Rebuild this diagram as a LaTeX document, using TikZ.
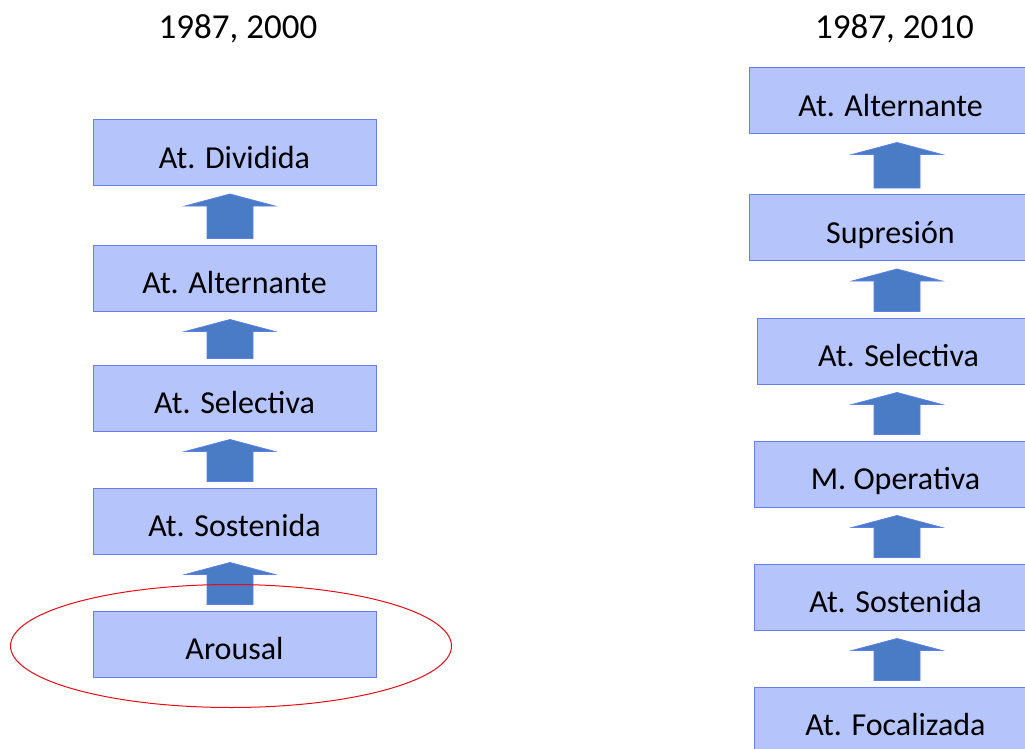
\documentclass[tikz,border=0pt]{standalone}
\usepackage{fontspec}
\setmainfont{Carlito}
\usetikzlibrary{calc}

\definecolor{boxfill}{RGB}{181,196,251}
\definecolor{boxline}{RGB}{104,126,240}
\definecolor{arrfill}{RGB}{73,124,197}
\definecolor{arrline}{RGB}{92,127,232}
\definecolor{ringred}{RGB}{232,10,20}

% block arrow from lower box #1 up to upper box #2, on column #3
\newcommand{\stepup}[3]{%
  \draw[blockarrow]
    ($(#3 |- #1.north)+(-23,-6)$) -- ($(#3 |- #2.south)+(-23,20)$)
    -- ($(#3 |- #2.south)+(-45,20)$) -- ($(#3 |- #2.south)+(0,8)$)
    -- ($(#3 |- #2.south)+(45,20)$) -- ($(#3 |- #2.south)+(23,20)$)
    -- ($(#3 |- #1.north)+(23,-6)$) -- cycle;}

\begin{document}
\begin{tikzpicture}
        [x=1pt,y=-1pt,
         level/.style={draw=boxline,fill=boxfill,line width=1pt,
           minimum width=283pt,minimum height=66pt,inner sep=0pt,
           text height=31pt,text depth=0pt,
           font=\fontsize{32}{38}\selectfont},
         blockarrow/.style={draw=arrline,fill=arrfill,line width=0.8pt},
         heading/.style={text height=22pt,text depth=0pt,
           font=\fontsize{35}{42}\selectfont}]
        \useasboundingbox (0,0) rectangle (1025,749);

        \coordinate (colL) at (230,0);
        \coordinate (colR) at (897,0);

        % left column
        \node[heading] (titleL) at (238,27.5) {1987, 2000};
        \node[level] (divL) at (234.5,152.5) {At. Dividida};
        \node[level] (altL) at (234.5,278) {At. Alternante};
        \node[level] (selL) at (234.5,398) {At. Selectiva};
        \node[level] (sosL) at (234.5,521) {At. Sostenida};
        \node[level] (aroL) at (234.5,644) {Arousal};

        \stepup{altL}{divL}{colL}
        \stepup{selL}{altL}{colL}
        \stepup{sosL}{selL}{colL}
        \stepup{aroL}{sosL}{colL}

        % right column
        \node[heading] (titleR) at (894.5,27.5) {1987, 2010};
        \node[level] (altR) at (890.5,101) {At. Alternante};
        \node[level] (supR) at (890.5,227.5) {Supresión};
        \node[level] (selR) at (898.5,351) {At. Selectiva};
        \node[level] (opeR) at (895.5,474) {M. Operativa};
        \node[level] (sosR) at (895.5,597) {At. Sostenida};
        \node[level] (focR) at (895.5,720) {At. Focalizada};

        \stepup{supR}{altR}{colR}
        \stepup{selR}{supR}{colR}
        \stepup{opeR}{selR}{colR}
        \stepup{sosR}{opeR}{colR}
        \stepup{focR}{sosR}{colR}

        \draw[ringred,line width=1pt] (231,646) ellipse [x radius=220.5pt,y radius=61.5pt];
      \end{tikzpicture}
\end{document}
